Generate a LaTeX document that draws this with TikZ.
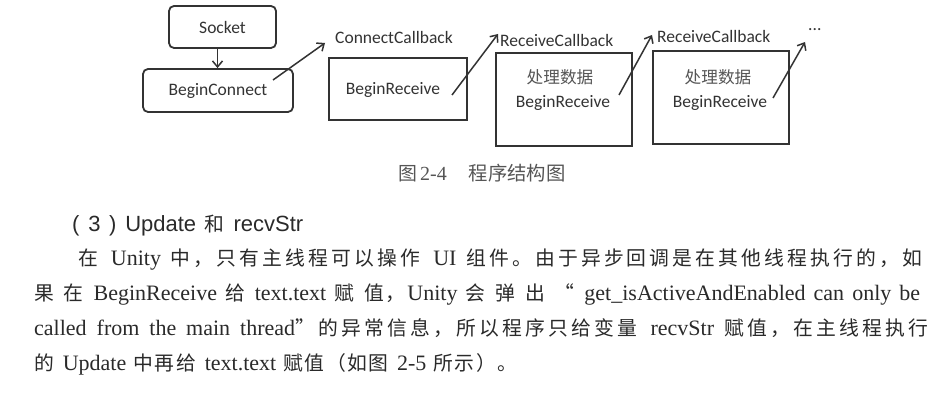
\documentclass[tikz,border=0pt]{standalone}
\usepackage{fontspec}
\setmainfont{Liberation Serif}
\newfontfamily\cjk[Scale=0.9]{Noto Sans CJK SC}
\newfontfamily\calfont{Carlito}
\newfontfamily\arialfont{Liberation Sans}
\usetikzlibrary{arrows.meta}
\def\zhsloop#1{\ifx\relax#1\else#1\hskip0pt plus 2pt\relax\expandafter\zhsloop\fi}
\newcommand\zhs[1]{{\cjk #1}}
\newcommand\zhj[1]{{\cjk\zhsloop#1\relax}}
\definecolor{linecol}{HTML}{333333}
\definecolor{bodycol}{HTML}{2A2A2A}
\definecolor{capcol}{HTML}{555555}
\begin{document}
\begin{tikzpicture}[x=1pt,y=-1pt,
  rbox/.style={draw=linecol, line width=1.8pt, rounded corners=5pt, inner sep=0pt, text=linecol, font=\calfont\fontsize{17.5}{20}\selectfont},
  sbox/.style={draw=linecol, line width=1.1pt, inner sep=0pt},
  dlabel/.style={inner sep=0pt, text=linecol, font=\calfont\fontsize{17.5}{20}\selectfont},
  zlabel/.style={inner sep=0pt, text=capcol, font=\fontsize{18.5}{20}\selectfont},
  arr/.style={draw=linecol, line width=1.5pt, -{Straight Barb[length=6pt,width=10pt]}},
  bodyline/.style={anchor=base west, inner sep=0pt, text=bodycol, font=\fontsize{22}{26}\selectfont}]
\useasboundingbox[fill=white] (0,0) rectangle (935,401);

% diagram
\node[rbox, minimum width=107pt, minimum height=42pt] (sock) at (222.5,27) {Socket};
\node[rbox, minimum width=150pt, minimum height=43pt] (bc) at (218,90.5) {BeginConnect};
\node[sbox, minimum width=138pt, minimum height=62pt] (b1) at (398,89) {};
\node[dlabel] (b1t) at (393,90) {BeginReceive};
\node[sbox, minimum width=136pt, minimum height=93pt] (b2) at (564,99.5) {};
\node[zlabel] (b2z) at (560,77) {\zhs{处理数据}};
\node[dlabel] (b2t) at (563,103) {BeginReceive};
\node[sbox, minimum width=136pt, minimum height=93pt] (b3) at (721,97.5) {};
\node[zlabel] (b3z) at (718,77) {\zhs{处理数据}};
\node[dlabel] (b3t) at (720,103) {BeginReceive};

\node[dlabel, anchor=west] (cc) at (335,37) {ConnectCallback};
\node[dlabel, anchor=west] (rc1) at (500,40) {ReceiveCallback};
\node[dlabel, anchor=west] (rc2) at (657,36) {ReceiveCallback};
\node[dlabel, anchor=base west] (dots) at (808,31) {...};

\coordinate (a1s) at (273,80);
\coordinate (a1e) at (325,43);
\coordinate (a2s) at (452,95);
\coordinate (a2e) at (498,34);
\coordinate (a3s) at (619,95);
\coordinate (a3e) at (652,35);
\coordinate (a4s) at (773,98);
\coordinate (a4e) at (805,42);

\draw[arr] ([xshift=-5pt]sock.south) -- ([xshift=-5pt]sock.south |- bc.north);
\draw[arr] (a1s) -- (a1e);
\draw[arr] (a2s) -- (a2e);
\draw[arr] (a3s) -- (a3e);
\draw[arr] (a4s) -- (a4e);

% caption
\node[anchor=base west, inner sep=0pt, text=capcol, font=\fontsize{20}{22}\selectfont] (cap) at (398,181)
  {{\cjk\fontsize{21}{22}\selectfont 图}\hspace{3pt}2-4\hspace{22pt}{\cjk\fontsize{21.5}{22}\selectfont\zhsloop 程序结构图\relax}};

% heading
\node[anchor=base west, inner sep=0pt, text=bodycol, font=\arialfont\fontsize{22}{24}\selectfont] (head) at (72,232)
  {\makebox[231pt][s]{( 3 ) Update \zhs{和} recvStr}};

% body text
\node[bodyline] (l1) at (78,265)
  {\makebox[844pt][s]{\zhj{在} Unity \zhj{中，只有主线程可以操作} UI \zhj{组件。由于异步回调是在其他线程执行的，}\zhs{如}}};
\node[bodyline] (l2) at (34,300)
  {\makebox[886pt][s]{\zhj{果} \zhj{在} BeginReceive \zhj{给} text.text \zhj{赋} \zhj{值，}Unity \zhj{会} \zhj{弹} \zhj{出} \zhj{“} get\_isActiveAndEnabled can only be}};
\node[bodyline] (l3) at (34,335)
  {\makebox[894pt][s]{called from the main thread\zhj{”的异常信息，所以程序只给变量} recvStr \zhj{赋值，在主线程执}\zhs{行}}};
\node[bodyline] (l4) at (34,370)
  {\makebox[483pt][s]{\zhj{的} Update \zhj{中再给} text.text \zhj{赋值（如图} 2-5 \zhj{所示）}\zhs{。}}};
\end{tikzpicture}
\end{document}
